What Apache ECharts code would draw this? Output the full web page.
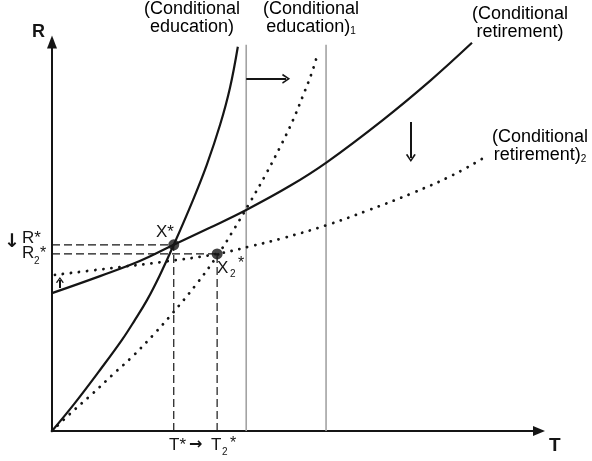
<!DOCTYPE html>
<html>
<head>
<meta charset="utf-8">
<script src="https://cdn.jsdelivr.net/npm/echarts@6/dist/echarts.min.js"></script>
<style>html,body{margin:0;padding:0;background:#fff}#c{width:592px;height:461px}</style>
</head>
<body>
<div id="c"></div>
<script>
// Curves (T horizontal, R vertical, arbitrary units)
const eduSolid = [[0,0],[4.67,7.1],[9.74,15.4],[14.2,23.0],[16.8,28.0],[19.3,33.1],[21.9,39.4],[24.7,47.0],[28.6,58.3],[31.4,67.2],[34.1,77.3],[36.1,86.6],[37.7,97.0]];
const eduDotted = [[0,0],[4.06,4.8],[8.11,9.3],[12.2,14.1],[16.4,18.9],[20.5,24.2],[24.5,29.8],[29.0,36.6],[33.5,44.2],[37.1,51.3],[40.2,57.8],[43.2,64.4],[46.2,71.5],[48.9,78.5],[50.9,84.6],[52.7,90.4],[54.0,95.7]];
const retSolid = [[0,34.8],[9.74,39.1],[17.8,42.9],[24.7,47.0],[32.0,51.3],[39.4,55.8],[48.3,61.9],[55.8,67.9],[67.1,78.5],[76.7,88.4],[85.2,98.0]];
const retDotted = [[0.6,39.4],[11.2,41.0],[22.5,42.7],[33.5,44.7],[40.2,46.6],[46.9,48.7],[55.8,52.0],[63.9,55.6],[73.2,60.1],[81.3,64.6],[88.2,69.4]];
const equilibria = [[24.7,47.0],[33.5,44.7]];
const greyLinesT = [39.4,55.6];
const greyTop = 97.5;
const arrowRight = [[39.4,88.9],[47.5,88.9]];
const arrowDown = [[72.8,78.0],[72.8,68.9]];
const arrowUp = [[1.6,36.1],[1.6,38.1]];

const ink = '#151515';
const font = '"Liberation Sans", Arial, sans-serif';
const chevron = 'path://M0,10 L5,0 L10,10 L8.4,10.9 L5,3.6 L1.6,10.9 Z';

const chart = echarts.init(document.getElementById('c'), null, {renderer:'canvas'});

function curve(data, dotted) {
  return {
    type:'line', data:data, smooth:0.4, symbol:'none', silent:true, z:3,
    lineStyle: dotted
      ? {color:ink, width:2.8, type:[0.1,8], cap:'round'}
      : {color:ink, width:2.2}
  };
}
function seg(a, b, style, z) {
  return {type:'line', data:[a,b], symbol:'none', silent:true, z:z||2, lineStyle:style};
}
const dashStyle = {color:ink, width:1.2, type:[8,4]};
const greyStyle = {color:'#a3a3a3', width:1.6};

const series = [
  curve(eduSolid,false), curve(eduDotted,true), curve(retSolid,false), curve(retDotted,true),
  seg([greyLinesT[0],0],[greyLinesT[0],greyTop],greyStyle,1),
  seg([greyLinesT[1],0],[greyLinesT[1],greyTop],greyStyle,1),
  seg([0,equilibria[0][1]],equilibria[0],dashStyle),
  seg([0,equilibria[1][1]],equilibria[1],dashStyle),
  seg([equilibria[0][0],0],equilibria[0],dashStyle),
  seg([equilibria[1][0],0],equilibria[1],dashStyle),
  {type:'scatter', data:equilibria, symbolSize:11, itemStyle:{color:ink}, silent:true, z:5},
  {type:'line', data:[], silent:true,
    markLine:{silent:true, symbol:['none',chevron], symbolSize:[10,8], animation:false,
      label:{show:false}, lineStyle:{color:ink, width:2, type:'solid'},
      data:[
        [{coord:arrowRight[0]},{coord:arrowRight[1]}],
        [{coord:arrowDown[0]},{coord:arrowDown[1]}],
        [{coord:arrowUp[0]},{coord:arrowUp[1], symbolSize:[8,6]}]
      ]}}
];

function txt(x, y, text, size, opts) {
  return {type:'text', silent:true, z:10, style:Object.assign({x:x, y:y, text:text, fill:ink,
    font: (opts && opts.bold ? 'bold ' : '') + size + 'px ' + ((opts && opts.family) || font),
    textAlign:(opts && opts.align)||'left', textVerticalAlign:'top'}, opts && opts.extra)};
}
function rich(x, y, text, align) {
  return {type:'text', silent:true, z:10, style:{x:x, y:y, text:text, textAlign:align||'center', textVerticalAlign:'top',
    rich:{a:{fontSize:18, lineHeight:18, fontFamily:font, color:ink}, s:{fontSize:10, lineHeight:18, fontFamily:font, color:ink, padding:[8,0,0,0]}}}};
}

chart.setOption({
  animation:false,
  backgroundColor:'#fff',
  grid:{left:52, right:53, top:42, bottom:30, containLabel:false},
  xAxis:{type:'value', min:0, max:98.8, splitLine:{show:false}, axisTick:{show:false}, axisLabel:{show:false},
    axisLine:{lineStyle:{color:ink, width:2}, symbol:['none','triangle'], symbolSize:[10,12]}},
  yAxis:{type:'value', min:0, max:98.2, splitLine:{show:false}, axisTick:{show:false}, axisLabel:{show:false},
    axisLine:{lineStyle:{color:ink, width:2}, symbol:['none','triangle'], symbolSize:[10,13]}},
  series:series,
  graphic:[
    txt(32, 23, 'R', 18, {bold:true}),
    txt(549, 436, 'T', 19, {bold:true}),
    rich(192, 0, '{a|(Conditional}\n{a|education)}'),
    rich(311, 0, '{a|(Conditional}\n{a|education)}{s|1}'),
    rich(520, 5, '{a|(Conditional}\n{a|retirement)}'),
    rich(540, 128, '{a|(Conditional}\n{a|retirement)}{s|2}'),
    txt(156, 224, 'X*', 17),
    txt(217, 260, 'X', 17),
    txt(230, 269, '2', 10),
    txt(238, 256, '*', 16),
    txt(4, 233, '↓', 19, {bold:true, family:'"DejaVu Sans", sans-serif'}),
    txt(22, 230, 'R*', 17),
    txt(22, 245, 'R', 17),
    txt(34, 256, '2', 10),
    txt(40, 246, '*', 16),
    txt(169, 437, 'T*', 17),
    txt(189, 437, '→', 16, {bold:true, family:'"DejaVu Sans", sans-serif'}),
    txt(211, 437, 'T', 17),
    txt(222, 447, '2', 10),
    txt(230, 436, '*', 16)
  ]
});
</script>
</body>
</html>
